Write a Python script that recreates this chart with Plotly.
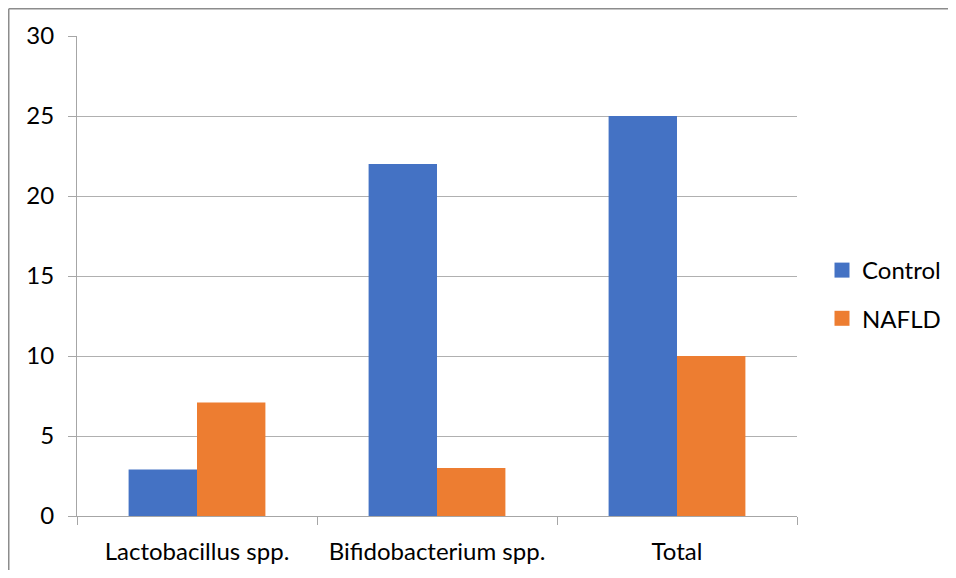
import plotly.graph_objects as go

categories = ["Lactobacillus spp.", "Bifidobacterium spp.", "Total"]
control = [2.9, 22, 25]
nafld = [7.1, 3, 10]
y_ticks = [0, 5, 10, 15, 20, 25, 30]
series_names = ["Control", "NAFLD"]
series_colors = ["#4472C4", "#ED7D31"]

FONT = "Lato"
OFF = 8  # default page body margin
W, H = 956 - 2 * OFF, 578 - 2 * OFF
# plot area in screen pixels: x 77..797, y 36..516
L, R, T, B = 77 - OFF, W - (797 - OFF), 36 - OFF, H - (516 - OFF)
pw, ph = W - L - R, H - T - B

def px_x(sx):
    return (sx - OFF - L) / pw

def px_y(sy):
    return (H - B - (sy - OFF)) / ph

fig = go.Figure()
for name, vals, col in zip(series_names, [control, nafld], series_colors):
    fig.add_trace(go.Bar(x=categories, y=vals, name=name, marker_color=col,
                         marker_line_width=0, showlegend=False))
# legend proxies (square swatches)
for i, (name, col) in enumerate(zip(series_names, series_colors)):
    fig.add_trace(go.Scatter(x=[None], y=[None], mode="markers", name=name,
                             marker=dict(symbol="square", size=15, color=col),
                             legendgroup=f"g{i}", showlegend=True))

border = dict(color="#8c8c8c", width=1.5)
fig.update_layout(
    width=W, height=H,
    margin=dict(l=L, r=R, t=T, b=B, autoexpand=False),
    paper_bgcolor="white", plot_bgcolor="white",
    font=dict(family=FONT, size=24, color="#000000"),
    barmode="group", bargap=0.43, bargroupgap=0,
    showlegend=True,
    legend=dict(xref="container", x=(822 - OFF) / W, xanchor="left",
                y=px_y(294.5), yanchor="middle",
                font=dict(size=24), tracegroupgap=14, itemwidth=30,
                bgcolor="rgba(0,0,0,0)"),
    xaxis=dict(type="category", tickson="boundaries", ticks="outside", ticklen=8,
               tickcolor="#a6a6a6", showline=True, linecolor="#a6a6a6", linewidth=1,
               showgrid=False, zeroline=False, ticklabelstandoff=14, automargin=False),
    yaxis=dict(range=[0, 30], tickvals=y_ticks, ticks="outside", ticklen=8,
               tickcolor="#a6a6a6", showline=True, linecolor="#a6a6a6",
               showgrid=True, gridcolor="#b0b0b0", gridwidth=1, zeroline=False,
               ticklabelstandoff=9, automargin=False),
    shapes=[
        dict(type="line", xref="paper", yref="paper",
             x0=px_x(8.75), x1=px_x(956 + 20), y0=px_y(8.75), y1=px_y(8.75),
             line=border, layer="below"),
        dict(type="line", xref="paper", yref="paper",
             x0=px_x(8.75), x1=px_x(8.75), y0=px_y(8.75), y1=px_y(578 + 20),
             line=border, layer="below"),
    ],
)
fig.write_html("out.html", config={"displayModeBar": False})
